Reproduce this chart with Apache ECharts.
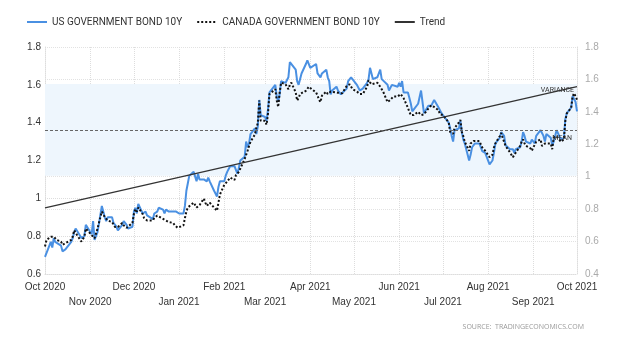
<!DOCTYPE html>
<html><head><meta charset="utf-8">
<script src="https://cdn.jsdelivr.net/npm/echarts@6/dist/echarts.min.js"></script>
<style>html,body{margin:0;padding:0;background:#fff}#c{width:624px;height:342px}</style>
</head><body><div id="c"></div>
<script>
const dates = [
'2020-10-01','2020-10-02','2020-10-05','2020-10-06','2020-10-07','2020-10-08','2020-10-09','2020-10-12','2020-10-13','2020-10-14','2020-10-15','2020-10-16','2020-10-19','2020-10-20','2020-10-21','2020-10-22','2020-10-23','2020-10-26','2020-10-27','2020-10-28','2020-10-29','2020-10-30',
'2020-11-02','2020-11-03','2020-11-04','2020-11-05','2020-11-06','2020-11-09','2020-11-10','2020-11-11','2020-11-12','2020-11-13','2020-11-16','2020-11-17','2020-11-18','2020-11-19','2020-11-20','2020-11-23','2020-11-24','2020-11-25','2020-11-26','2020-11-27','2020-11-30',
'2020-12-01','2020-12-02','2020-12-03','2020-12-04','2020-12-07','2020-12-08','2020-12-09','2020-12-10','2020-12-11','2020-12-14','2020-12-15','2020-12-16','2020-12-17','2020-12-18','2020-12-21','2020-12-22','2020-12-23','2020-12-24','2020-12-25','2020-12-28','2020-12-29','2020-12-30','2020-12-31',
'2021-01-01','2021-01-04','2021-01-05','2021-01-06','2021-01-07','2021-01-08','2021-01-11','2021-01-12','2021-01-13','2021-01-14','2021-01-15','2021-01-18','2021-01-19','2021-01-20','2021-01-21','2021-01-22','2021-01-25','2021-01-26','2021-01-27','2021-01-28','2021-01-29',
'2021-02-01','2021-02-02','2021-02-03','2021-02-04','2021-02-05','2021-02-08','2021-02-09','2021-02-10','2021-02-11','2021-02-12','2021-02-15','2021-02-16','2021-02-17','2021-02-18','2021-02-19','2021-02-22','2021-02-23','2021-02-24','2021-02-25','2021-02-26',
'2021-03-01','2021-03-02','2021-03-03','2021-03-04','2021-03-05','2021-03-08','2021-03-09','2021-03-10','2021-03-11','2021-03-12','2021-03-15','2021-03-16','2021-03-17','2021-03-18','2021-03-19','2021-03-22','2021-03-23','2021-03-24','2021-03-25','2021-03-26','2021-03-29','2021-03-30','2021-03-31',
'2021-04-01','2021-04-02','2021-04-05','2021-04-06','2021-04-07','2021-04-08','2021-04-09','2021-04-12','2021-04-13','2021-04-14','2021-04-15','2021-04-16','2021-04-19','2021-04-20','2021-04-21','2021-04-22','2021-04-23','2021-04-26','2021-04-27','2021-04-28','2021-04-29','2021-04-30',
'2021-05-03','2021-05-04','2021-05-05','2021-05-06','2021-05-07','2021-05-10','2021-05-11','2021-05-12','2021-05-13','2021-05-14','2021-05-17','2021-05-18','2021-05-19','2021-05-20','2021-05-21','2021-05-24','2021-05-25','2021-05-26','2021-05-27','2021-05-28','2021-05-31',
'2021-06-01','2021-06-02','2021-06-03','2021-06-04','2021-06-07','2021-06-08','2021-06-09','2021-06-10','2021-06-11','2021-06-14','2021-06-15','2021-06-16','2021-06-17','2021-06-18','2021-06-21','2021-06-22','2021-06-23','2021-06-24','2021-06-25','2021-06-28','2021-06-29','2021-06-30',
'2021-07-01','2021-07-02','2021-07-05','2021-07-06','2021-07-07','2021-07-08','2021-07-09','2021-07-12','2021-07-13','2021-07-14','2021-07-15','2021-07-16','2021-07-19','2021-07-20','2021-07-21','2021-07-22','2021-07-23','2021-07-26','2021-07-27','2021-07-28','2021-07-29','2021-07-30',
'2021-08-02','2021-08-03','2021-08-04','2021-08-05','2021-08-06','2021-08-09','2021-08-10','2021-08-11','2021-08-12','2021-08-13','2021-08-16','2021-08-17','2021-08-18','2021-08-19','2021-08-20','2021-08-23','2021-08-24','2021-08-25','2021-08-26','2021-08-27','2021-08-30','2021-08-31',
'2021-09-01','2021-09-02','2021-09-03','2021-09-06','2021-09-07','2021-09-08','2021-09-09','2021-09-10','2021-09-13','2021-09-14','2021-09-15','2021-09-16','2021-09-17','2021-09-20','2021-09-21','2021-09-22','2021-09-23','2021-09-24','2021-09-27','2021-09-28','2021-09-29','2021-09-30','2021-10-01'
];
const usYield = [
0.69,0.70,0.77,0.74,0.79,0.77,0.77,0.75,0.72,0.72,0.73,0.74,0.77,0.79,0.82,0.84,0.83,0.79,0.78,0.80,0.86,0.86,
0.81,0.88,0.78,0.79,0.82,0.96,0.97,0.90,0.88,0.90,0.90,0.87,0.87,0.85,0.83,0.86,0.88,0.87,0.86,0.84,0.85,
0.93,0.95,0.92,0.97,0.92,0.92,0.93,0.91,0.90,0.89,0.92,0.92,0.93,0.95,0.94,0.92,0.94,0.93,0.93,0.93,0.93,0.93,0.92,
0.92,0.92,0.96,1.04,1.08,1.12,1.14,1.13,1.09,1.13,1.10,1.10,1.10,1.09,1.11,1.09,1.04,1.04,1.01,1.06,1.09,
1.09,1.12,1.14,1.15,1.17,1.17,1.16,1.13,1.16,1.20,1.22,1.30,1.27,1.29,1.34,1.37,1.34,1.38,1.52,1.44,
1.43,1.41,1.47,1.56,1.56,1.60,1.54,1.51,1.55,1.62,1.61,1.62,1.64,1.72,1.72,1.68,1.62,1.60,1.63,1.66,1.71,1.73,1.74,
1.69,1.70,1.71,1.66,1.66,1.64,1.66,1.68,1.64,1.62,1.55,1.57,1.59,1.57,1.56,1.55,1.56,1.58,1.62,1.63,1.64,1.63,
1.60,1.59,1.57,1.57,1.58,1.61,1.63,1.69,1.66,1.63,1.64,1.64,1.68,1.63,1.62,1.60,1.57,1.58,1.60,1.59,1.59,
1.61,1.59,1.62,1.56,1.56,1.53,1.50,1.46,1.46,1.50,1.50,1.57,1.51,1.45,1.49,1.48,1.49,1.49,1.52,1.48,1.47,1.45,
1.45,1.43,1.40,1.37,1.33,1.30,1.36,1.37,1.41,1.35,1.31,1.29,1.20,1.23,1.27,1.28,1.29,1.29,1.30,1.25,1.25,1.24,
1.18,1.17,1.20,1.24,1.29,1.32,1.35,1.34,1.33,1.28,1.26,1.26,1.26,1.24,1.26,1.27,1.30,1.35,1.33,1.30,1.29,1.31,
1.31,1.29,1.33,1.36,1.37,1.33,1.30,1.34,1.32,1.28,1.30,1.33,1.36,1.31,1.32,1.32,1.42,1.45,1.48,1.54,1.55,1.51,1.46
];
const caYield = [
0.57,0.61,0.63,0.62,0.63,0.62,0.61,0.60,0.58,0.58,0.59,0.59,0.61,0.63,0.67,0.66,0.64,0.60,0.61,0.63,0.68,0.67,
0.64,0.63,0.62,0.63,0.68,0.785,0.77,0.75,0.74,0.73,0.72,0.715,0.69,0.68,0.69,0.715,0.70,0.69,0.685,0.685,0.715,
0.77,0.80,0.785,0.81,0.77,0.745,0.74,0.73,0.72,0.73,0.745,0.75,0.76,0.755,0.74,0.73,0.73,0.725,0.72,0.715,0.70,0.69,0.685,
0.685,0.70,0.745,0.785,0.81,0.82,0.84,0.84,0.81,0.82,0.825,0.865,0.84,0.82,0.83,0.84,0.81,0.805,0.79,0.84,0.89,
0.95,0.96,0.97,0.98,0.995,0.98,1.01,1.02,1.03,1.05,1.11,1.135,1.16,1.19,1.215,1.26,1.30,1.33,1.47,1.345,
1.345,1.32,1.39,1.51,1.50,1.54,1.47,1.43,1.52,1.58,1.57,1.555,1.54,1.567,1.58,1.52,1.47,1.485,1.51,1.52,1.53,1.54,1.555,
1.55,1.54,1.52,1.50,1.475,1.46,1.50,1.525,1.51,1.52,1.525,1.53,1.52,1.53,1.515,1.505,1.515,1.56,1.565,1.57,1.56,1.54,
1.525,1.52,1.51,1.50,1.51,1.555,1.595,1.59,1.57,1.58,1.58,1.57,1.555,1.54,1.525,1.46,1.45,1.475,1.485,1.495,1.495,
1.505,1.51,1.52,1.485,1.425,1.40,1.38,1.37,1.38,1.40,1.39,1.38,1.37,1.385,1.42,1.43,1.44,1.445,1.43,1.41,1.385,1.38,
1.38,1.375,1.335,1.275,1.265,1.265,1.30,1.335,1.35,1.275,1.25,1.215,1.16,1.205,1.215,1.22,1.215,1.22,1.215,1.18,1.17,1.16,
1.12,1.11,1.135,1.18,1.205,1.25,1.27,1.24,1.23,1.19,1.15,1.145,1.12,1.135,1.145,1.19,1.215,1.23,1.205,1.19,1.175,1.16,
1.18,1.19,1.215,1.23,1.19,1.18,1.205,1.215,1.205,1.17,1.24,1.23,1.25,1.215,1.215,1.23,1.345,1.39,1.425,1.495,1.515,1.495,1.475
];
const trendDates = ['2020-10-01', '2021-10-01'];
const trendValues = [0.95, 1.59];
const meanValue = 1.36;
const varianceBand = [1.12, 1.605];
const seriesNames = ['US GOVERNMENT BOND 10Y', 'CANADA GOVERNMENT BOND 10Y', 'Trend'];
const monthNames = ['Jan','Feb','Mar','Apr','May','Jun','Jul','Aug','Sep','Oct','Nov','Dec'];
const sourceText = 'SOURCE:  TRADINGECONOMICS.COM';

const pair = (xs, ys) => xs.map((d, i) => [d, ys[i]]);
const chart = echarts.init(document.getElementById('c'), null, {renderer: 'canvas'});
chart.setOption({
  animation: false,
  textStyle: {fontFamily: 'Roboto'},
  legend: {
    left: 21, top: 12, itemWidth: 20, itemHeight: 10, itemGap: 14,
    itemStyle: {opacity: 0},
    textStyle: {fontSize: 10, color: '#333', fontFamily: 'Roboto'},
    data: seriesNames
  },
  grid: {left: 45, right: 47, top: 47, bottom: 68},
  xAxis: {
    type: 'time',
    min: new Date(2020, 9, 1).getTime(),
    max: new Date(2021, 9, 1).getTime(),
    splitNumber: 12,
    minInterval: 28 * 864e5,
    maxInterval: 31 * 864e5,
    axisLine: {show: true, lineStyle: {color: '#ddd', type: 'dotted'}},
    axisTick: {show: false},
    splitLine: {show: true, lineStyle: {color: '#ddd', type: 'dotted'}},
    axisLabel: {
      showMinLabel: true, showMaxLabel: true,
      color: '#333', fontSize: 10, lineHeight: 15, margin: 6, fontFamily: 'Liberation Sans',
      formatter: function (v) {
        const d = new Date(v);
        const m = d.getMonth();
        const s = monthNames[m] + ' ' + d.getFullYear();
        return (m % 2 === 1) ? s : '\n' + s;
      }
    }
  },
  yAxis: [
    {
      type: 'value', min: 0.6, max: 1.8, interval: 0.2, position: 'left',
      axisLine: {show: true, lineStyle: {color: '#ddd', type: 'dotted'}},
      axisTick: {show: false},
      splitLine: {show: true, lineStyle: {color: '#ddd', type: 'dotted'}},
      axisLabel: {color: '#333', fontSize: 10, margin: 4, fontFamily: 'Liberation Sans'}
    },
    {
      type: 'value', min: 0.4, max: 1.8, interval: 0.2, position: 'right',
      axisLine: {show: true, lineStyle: {color: '#ddd', type: 'dotted'}},
      axisTick: {show: false},
      splitLine: {show: true, lineStyle: {color: '#e2e2e2', type: 'dotted'}},
      axisLabel: {color: '#aaa', fontSize: 10, margin: 8, fontFamily: 'Liberation Sans'}
    }
  ],
  series: [
    {
      name: seriesNames[0], type: 'line', yAxisIndex: 0, symbol: 'none',
      data: pair(dates, usYield),
      lineStyle: {color: '#4a90e2', width: 2},
      itemStyle: {color: '#4a90e2'},
      z: 2,
      markArea: {
        silent: true,
        itemStyle: {color: '#eef6fd'},
        label: {show: true, position: 'insideTopRight', formatter: 'VARIANCE', fontSize: 7, color: '#333', distance: 3},
        data: [[{yAxis: varianceBand[0]}, {yAxis: varianceBand[1]}]]
      },
      markLine: {
        silent: true, symbol: 'none',
        lineStyle: {color: '#666', width: 1, type: [3, 2]},
        label: {show: true, position: 'insideEndBottom', formatter: 'MEAN', fontSize: 7, color: '#333'},
        data: [{yAxis: meanValue}]
      }
    },
    {
      name: seriesNames[1], type: 'line', yAxisIndex: 1, symbol: 'none',
      data: pair(dates, caYield),
      lineStyle: {color: '#111', width: 2, type: [2, 2]},
      itemStyle: {color: '#111'},
      z: 3
    },
    {
      name: seriesNames[2], type: 'line', yAxisIndex: 0, symbol: 'none',
      data: pair(trendDates, trendValues),
      lineStyle: {color: '#333', width: 1.3},
      itemStyle: {color: '#333'},
      z: 4
    }
  ],
  graphic: [{
    type: 'text', right: 40, top: 323,
    style: {text: sourceText, fontSize: 7, fill: '#999', fontFamily: 'Open Sans'}
  }]
});
</script></body></html>
